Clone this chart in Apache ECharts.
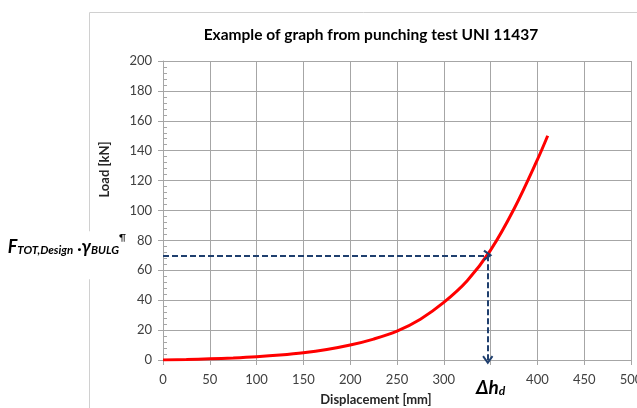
<!DOCTYPE html>
<html lang="en">
<head>
    <meta charset="UTF-8">
    <title>Punching test</title>
</head>
<body style="margin:0;background:#fff;">
    <div id="chart" style="width:637px;height:408px;"></div>
</body>
</html>
<script src="https://cdn.jsdelivr.net/npm/echarts@6/dist/echarts.min.js"></script>
<script type="text/javascript">
    const chart = echarts.init(document.getElementById('chart'));

    // curve
    const displacement = [0, 25, 50, 75, 100, 125, 150, 175, 200, 225, 250, 275, 300, 325, 350, 375, 400, 411];
    const load = [0, 0.3, 0.8, 1.4, 2.2, 3.3, 4.8, 7, 10, 14, 19.3, 27.3, 38.5, 53, 73.5, 101, 134, 150];

    // design point
    const designLoad = 70;
    const designDisp = 347;
    const dispTickReplaced = 350;

    const font = 'Lato, "Open Sans", sans-serif';
    const grey = '#a6a6a6';
    const blue = '#1f3f6e';
    const chevron = 'path://M5,0 L10,8.5 L8.6,10 L5,4 L1.4,10 L0,8.5 Z';

    chart.setOption({
        animation: false,
        textStyle: { fontFamily: font },
        title: {
            text: 'Example of graph from punching test UNI 11437',
            left: 366,
            top: 22,
            textAlign: 'center',
            textStyle: { fontSize: 15.5, fontWeight: 'bold', color: '#000', fontFamily: font }
        },
        graphic: [{
            type: 'rect',
            z: -10,
            shape: { x: 89.5, y: 12.5, width: 600, height: 500 },
            style: { fill: null, stroke: '#d0d0d0', lineWidth: 1 }
        }],
        grid: { left: 163, right: 6, top: 61, bottom: 48, outerBoundsMode: 'none', containLabel: false },
        xAxis: {
            type: 'value',
            min: 0,
            max: 500,
            interval: 50,
            name: 'Displacement [mm]',
            nameLocation: 'middle',
            nameGap: 33,
            nameMoveOverlap: false,
            nameTextStyle: { fontSize: 13, fontWeight: 'bold', color: '#262626', padding: [0, 42, 0, 0] },
            axisLine: { lineStyle: { color: grey } },
            axisTick: { show: true, length: 5, lineStyle: { color: grey } },
            splitLine: { show: true, lineStyle: { color: grey } },
            axisLabel: {
                fontSize: 13,
                color: '#404040',
                margin: 13,
                formatter: v => v === dispTickReplaced ? '{d|Δh}{s|d}' : String(v),
                rich: {
                    d: { fontSize: 19, fontWeight: 'bold', fontStyle: 'italic', color: '#000', lineHeight: 24, verticalAlign: 'bottom' },
                    s: { fontSize: 12, fontWeight: 'bold', fontStyle: 'italic', color: '#000', lineHeight: 14, verticalAlign: 'bottom' }
                }
            }
        },
        yAxis: [{
            type: 'value',
            min: 0,
            max: 200,
            interval: 20,
            name: 'Load [kN]',
            nameLocation: 'middle',
            nameGap: 52,
            nameTextStyle: { fontSize: 13, fontWeight: 'bold', color: '#262626', padding: [0, 0, 0, 82] },
            axisLine: { show: true, lineStyle: { color: grey } },
            axisTick: { show: true, length: 5, lineStyle: { color: grey } },
            splitLine: { show: true, lineStyle: { color: grey } },
            axisLabel: { fontSize: 13, color: '#404040', margin: 11 }
        }, {
            type: 'value',
            min: 0,
            max: 200,
            interval: 4,
            position: 'left',
            axisLine: { show: false },
            axisTick: { show: true, inside: true, length: 4, lineStyle: { color: grey } },
            axisLabel: { show: false },
            splitLine: { show: false }
        }],
        series: [{
            type: 'line',
            data: displacement.map((d, i) => [d, load[i]]),
            smooth: 0.35,
            showSymbol: false,
            lineStyle: { color: '#ff0000', width: 3 },
            z: 3,
            markLine: {
                silent: true,
                symbol: ['none', chevron],
                symbolSize: [11, 9],
                lineStyle: { color: blue, width: 2, type: [6, 3] },
                data: [
                    [{
                        coord: [0, designLoad],
                        label: {
                            show: true,
                            position: 'start',
                            distance: 35,
                            backgroundColor: '#fff',
                            padding: [1, 2, 23, 2],
                            formatter: '{m|F}{s|TOT,Design}{g| ·}{m|γ}{s|BULG}{p|¶}',
                            rich: {
                                m: { fontSize: 18, fontWeight: 'bold', fontStyle: 'italic', color: '#000', lineHeight: 22, verticalAlign: 'bottom' },
                                g: { fontSize: 16, fontWeight: 'bold', color: '#000', lineHeight: 22, verticalAlign: 'bottom' },
                                s: { fontSize: 11.5, fontWeight: 'bold', fontStyle: 'italic', color: '#000', lineHeight: 14, verticalAlign: 'bottom' },
                                p: { fontSize: 10, color: '#000', lineHeight: 24, verticalAlign: 'top' }
                            }
                        }
                    }, { coord: [designDisp, designLoad] }],
                    [{ coord: [designDisp, designLoad], label: { show: false } }, { coord: [designDisp, 0] }]
                ]
            }
        }]
    });
</script>
